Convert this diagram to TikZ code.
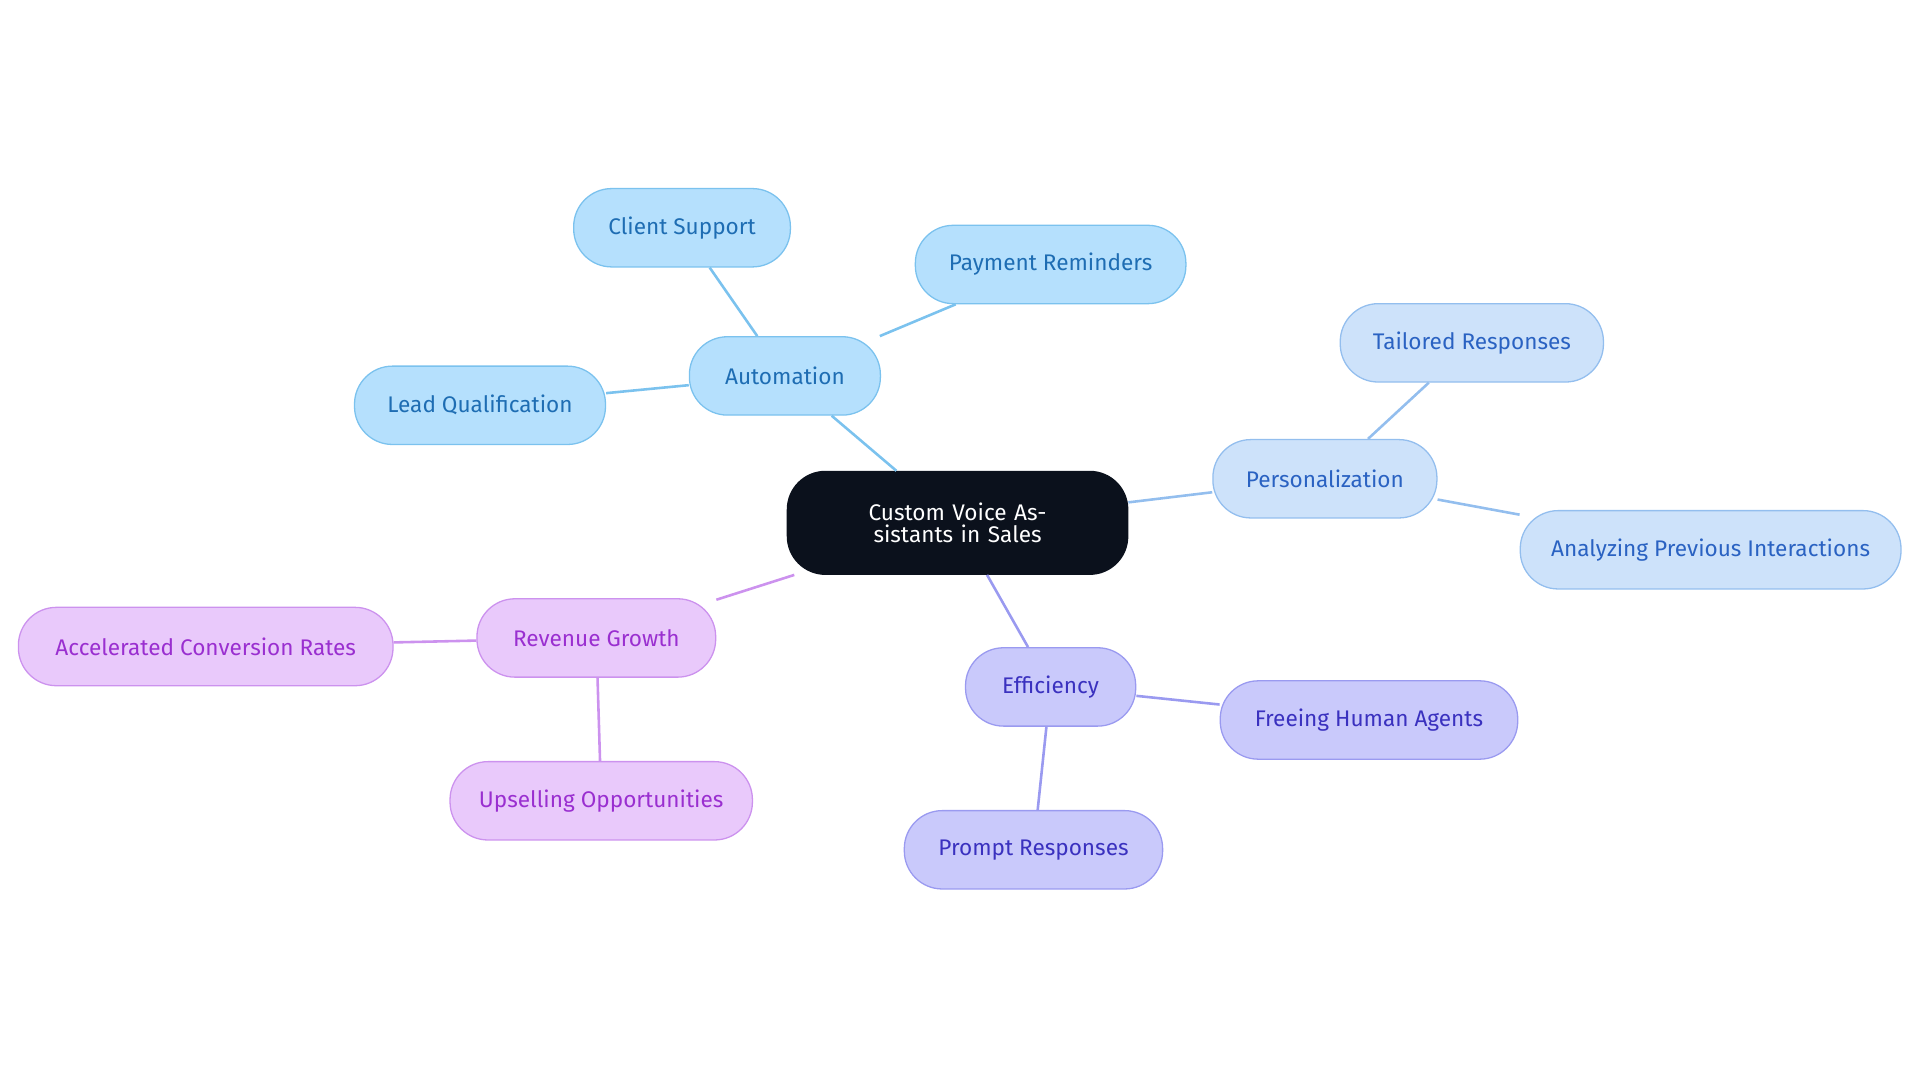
\documentclass[tikz,border=0pt]{standalone}
\usepackage{fontspec}
\setmainfont{Fira Sans}
\usetikzlibrary{positioning}
\definecolor{autofill}{HTML}{B5E0FD}
\definecolor{autoline}{HTML}{7BC2EE}
\definecolor{autotext}{HTML}{1E6DB3}
\definecolor{persfill}{HTML}{CDE2FA}
\definecolor{persline}{HTML}{93BEEE}
\definecolor{perstext}{HTML}{2A62C2}
\definecolor{efffill}{HTML}{C9C9FB}
\definecolor{effline}{HTML}{9A9AF0}
\definecolor{efftext}{HTML}{3A31BF}
\definecolor{revfill}{HTML}{E9C9FB}
\definecolor{revline}{HTML}{CC92EE}
\definecolor{revtext}{HTML}{9A2FD0}
\definecolor{rootfill}{HTML}{0B111C}
\begin{document}
\begin{tikzpicture}[x=0.02cm,y=-0.02cm,
    box/.style={draw,rounded corners=0.62cm,minimum height=1.28cm,align=center,
      font=\fontsize{10.5}{12}\selectfont,line width=0.6pt},
    auto/.style={box,fill=autofill,draw=autoline,text=autotext},
    pers/.style={box,fill=persfill,draw=persline,text=perstext},
    eff/.style={box,fill=efffill,draw=effline,text=efftext},
    rev/.style={box,fill=revfill,draw=revline,text=revtext},
    link/.style={line width=1.2pt}]
  \useasboundingbox (0,0) rectangle (1568,884);
  \node[box,fill=rootfill,draw=rootfill,text=white,minimum width=5.56cm,minimum height=1.68cm,
    text width=4.8cm,font=\fontsize{10.5}{10.5}\selectfont] (root) at (782,427) {Custom Voice Assistants in Sales};
  \node[auto,minimum width=3.12cm] (automation) at (641,307) {Automation};
  \node[auto,minimum width=3.54cm] (client) at (557,186) {Client Support};
  \node[auto,minimum width=4.42cm] (payment) at (858,216) {Payment Reminders};
  \node[auto,minimum width=4.1cm] (lead) at (392,331) {Lead Qualification};
  \node[pers,minimum width=3.66cm] (personal) at (1082,391) {Personalization};
  \node[pers,minimum width=4.3cm] (tailored) at (1202,280) {Tailored Responses};
  \node[pers,minimum width=6.22cm] (analyzing) at (1397,449) {Analyzing Previous Interactions};
  \node[eff,minimum width=2.78cm] (efficiency) at (858,561) {Efficiency};
  \node[eff,minimum width=4.86cm] (freeing) at (1118,588) {Freeing Human Agents};
  \node[eff,minimum width=4.22cm] (prompt) at (844,694) {Prompt Responses};
  \node[rev,minimum width=3.9cm] (revenue) at (487,521) {Revenue Growth};
  \node[rev,minimum width=6.12cm] (accel) at (168,528) {Accelerated Conversion Rates};
  \node[rev,minimum width=4.94cm] (upsell) at (491,654) {Upselling Opportunities};
  % branches
  \draw[link,autoline] (root) -- (automation);
  \draw[link,autoline] (automation) -- (client);
  \draw[link,autoline] (automation) -- (payment);
  \draw[link,autoline] (automation) -- (lead);
  \draw[link,persline] (root) -- (personal);
  \draw[link,persline] (personal) -- (tailored);
  \draw[link,persline] (personal) -- (analyzing);
  \draw[link,effline] (root) -- (efficiency);
  \draw[link,effline] (efficiency) -- (freeing);
  \draw[link,effline] (efficiency) -- (prompt);
  \draw[link,revline] (root) -- (revenue);
  \draw[link,revline] (revenue) -- (accel);
  \draw[link,revline] (revenue) -- (upsell);
\end{tikzpicture}
\end{document}
